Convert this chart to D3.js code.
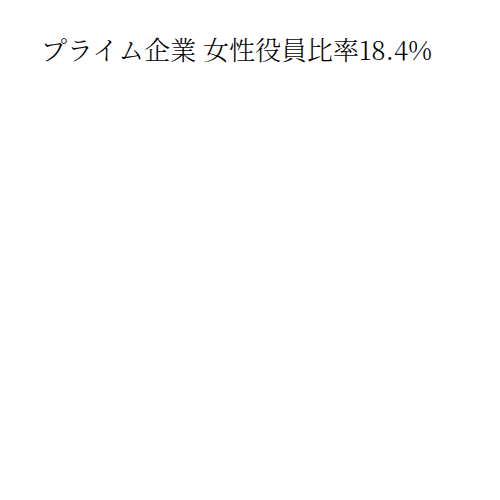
<!DOCTYPE html>
<html>
<head>
<meta charset="utf-8">
<script src="https://cdn.jsdelivr.net/npm/d3@7"></script>
<style>
  html, body { margin: 0; padding: 0; background: #fff; }
</style>
</head>
<body>
<div id="chart"></div>
<script>
const titleLabel = "プライム企業 女性役員比率";
const ratioValues = [18.4];

const width = 500, height = 500;
const svg = d3.select("#chart").append("svg")
  .attr("width", width).attr("height", height);

svg.append("text")
  .attr("x", 41)
  .attr("y", 60)
  .attr("font-family", "'Noto Serif CJK JP', 'Noto Serif JP', serif")
  .attr("font-size", 26)
  .attr("font-weight", 300)
  .attr("fill", "#000")
  .text(titleLabel + d3.format(".1f")(ratioValues[0]) + "%");
</script>
</body>
</html>
